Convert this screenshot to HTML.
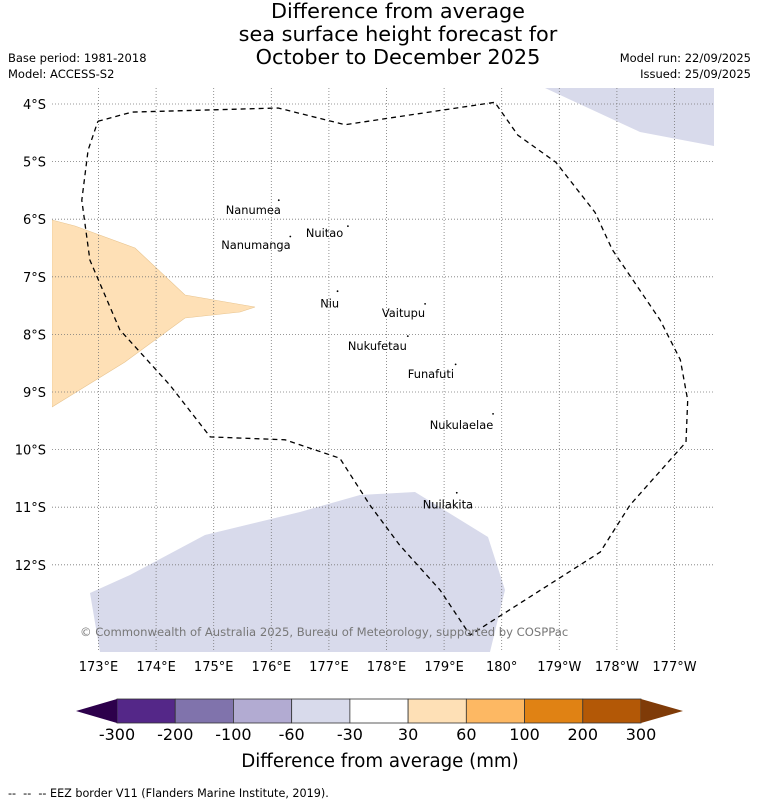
<!DOCTYPE html>
<html><head><meta charset="utf-8"><style>
body{margin:0;background:#fff;font-family:"DejaVu Sans","Liberation Sans",sans-serif;}
svg{display:block}
</style></head><body>
<svg id="c" width="758" height="804" viewBox="0 0 758 804">
<g font-size="20.8" text-anchor="middle" fill="#000">
<text x="398" y="18">Difference from average</text>
<text x="398" y="41">sea surface height forecast for</text>
<text x="398" y="64">October to December 2025</text>
</g>
<g font-size="11.5" fill="#000">
<text x="8" y="62">Base period: 1981-2018</text>
<text x="8" y="78">Model: ACCESS-S2</text>
<text x="751" y="62" text-anchor="end">Model run: 22/09/2025</text>
<text x="751" y="78" text-anchor="end">Issued: 25/09/2025</text>
</g>
<defs><clipPath id="mc"><rect x="52" y="88" width="662" height="564"/></clipPath></defs>
<g id="map" clip-path="url(#mc)">
<polygon fill="#fee0b6" stroke="#e8c48f" stroke-width="0.6" points="52,220 75,226 135,248 185,295 255,307 240,312 185,318 125,362 52,407"/>
<polygon fill="#d8daeb" points="545,88 640,132 714,146 714,88"/>
<polygon fill="#d8daeb" points="90,593 130,575 205,535 300,512 360,495 415,492 488,537 505,590 490,652 100,652"/>
<g id="grid"></g>
<path id="eez" fill="none" stroke="#000" stroke-width="1.3" stroke-dasharray="5,4"/>
<g id="islands" font-size="11.4" fill="#000"></g>
<text x="80" y="636" font-size="11.6" fill="#777">© Commonwealth of Australia 2025, Bureau of Meteorology, supported by COSPPac</text>
</g>
<g id="axes" font-size="13" fill="#000"></g>
<g id="cbar"></g>
<text x="380" y="767" font-size="18.2" text-anchor="middle">Difference from average (mm)</text>
<text x="8" y="797" font-size="11.2" style="white-space:pre">--  --  -- EEZ border V11 (Flanders Marine Institute, 2019).</text>
</svg>
<script>
const lonTicks=[173,174,175,176,177,178,179,180,181,182,183];
const lonLabels=["173°E","174°E","175°E","176°E","177°E","178°E","179°E","180°","179°W","178°W","177°W"];
const latTicks=[4,5,6,7,8,9,10,11,12];
const latLabels=["4°S","5°S","6°S","7°S","8°S","9°S","10°S","11°S","12°S"];
const eezLon=[172.99,173.58,176.12,177.28,179.88,180.28,180.94,181.62,181.92,182.75,183.10,183.23,183.20,182.23,181.71,179.45,178.93,178.23,177.71,177.19,176.24,174.94,174.24,173.37,172.85,172.71,172.82,172.99];
const eezLat=[4.30,4.14,4.07,4.36,3.97,4.54,5.01,5.88,6.53,7.75,8.44,9.14,9.87,10.96,11.78,13.22,12.44,11.66,10.96,10.15,9.83,9.78,8.88,7.92,6.71,5.67,4.80,4.30];
const islandNames=["Nanumea","Nanumanga","Nuitao","Niu","Vaitupu","Nukufetau","Funafuti","Nukulaelae","Nuilakita"];
const islandLon=[176.13,176.33,177.33,177.15,178.67,178.37,179.2,179.85,179.22];
const islandLat=[5.67,6.3,6.12,7.25,7.47,8.03,8.52,9.38,10.75];
const labelLon=[175.21,175.13,176.6,176.85,177.92,177.33,178.37,178.75,178.63];
const labelLat=[5.77,6.38,6.17,7.39,7.56,8.13,8.62,9.5,10.88];
const cbVals=["-300","-200","-100","-60","-30","30","60","100","200","300"];
const cbColors=["#542788","#8073ac","#b2abd2","#d8daeb","#ffffff","#fee0b6","#fdb863","#e08214","#b35806"];
const NS="http://www.w3.org/2000/svg";
const X=lon=>98.5+(lon-173)*57.6;
const Y=lat=>104+(lat-4)*57.6;
function mk(t,a,p){const e=document.createElementNS(NS,t);for(const k in a)e.setAttribute(k,a[k]);p.appendChild(e);return e;}
const grid=document.getElementById('grid'),axes=document.getElementById('axes');
lonTicks.forEach((l,i)=>{
 const g=mk('line',{x1:X(l),x2:X(l),y1:88,y2:652,stroke:'#777','stroke-width':0.8,'stroke-dasharray':'1,2'},grid);
 
 
 const t=mk('text',{x:X(l),y:671,'text-anchor':'middle'},axes);t.textContent=lonLabels[i];
 
 
});
latTicks.forEach((l,i)=>{
 const g=mk('line',{x1:52,x2:714,y1:Y(l),y2:Y(l),stroke:'#777','stroke-width':0.8,'stroke-dasharray':'1,2'},grid);
 
 
 const t=mk('text',{x:46,y:Y(l)+5,'text-anchor':'end'},axes);t.textContent=latLabels[i];
 
 
});
document.getElementById('eez').setAttribute('d',eezLon.map((l,i)=>(i?'L':'M')+X(l).toFixed(1)+','+Y(eezLat[i]).toFixed(1)).join(''));
const isl=document.getElementById('islands');
islandNames.forEach((n,i)=>{
 const d=mk('circle',{cx:X(islandLon[i]),cy:Y(islandLat[i]),r:0.9,fill:'#000'},isl);
 
 
 const t=mk('text',{x:X(labelLon[i]),y:Y(labelLat[i])+8},isl);t.textContent=n;
 
 
});
const cb=document.getElementById('cbar');const x0=117,x1=641,w=(x1-x0)/cbColors.length,y0=699,h=24;
cbColors.forEach((c,i)=>{
 const r=mk('rect',{x:x0+i*w,y:y0,width:w,height:h,fill:c,stroke:'#333','stroke-width':0.8},cb);
 
 
});
const lt=mk('polygon',{points:`${x0},${y0} 76,${y0+h/2} ${x0},${y0+h}`,fill:'#2d004b'},cb);


const rt=mk('polygon',{points:`${x1},${y0} 683,${y0+h/2} ${x1},${y0+h}`,fill:'#7f3b08'},cb);


cbVals.forEach((v,i)=>{
 const t=mk('text',{x:x0+i*w,y:740,'font-size':16,'text-anchor':'middle'},cb);t.textContent=v;
 
 
});
</script>
</body></html>
